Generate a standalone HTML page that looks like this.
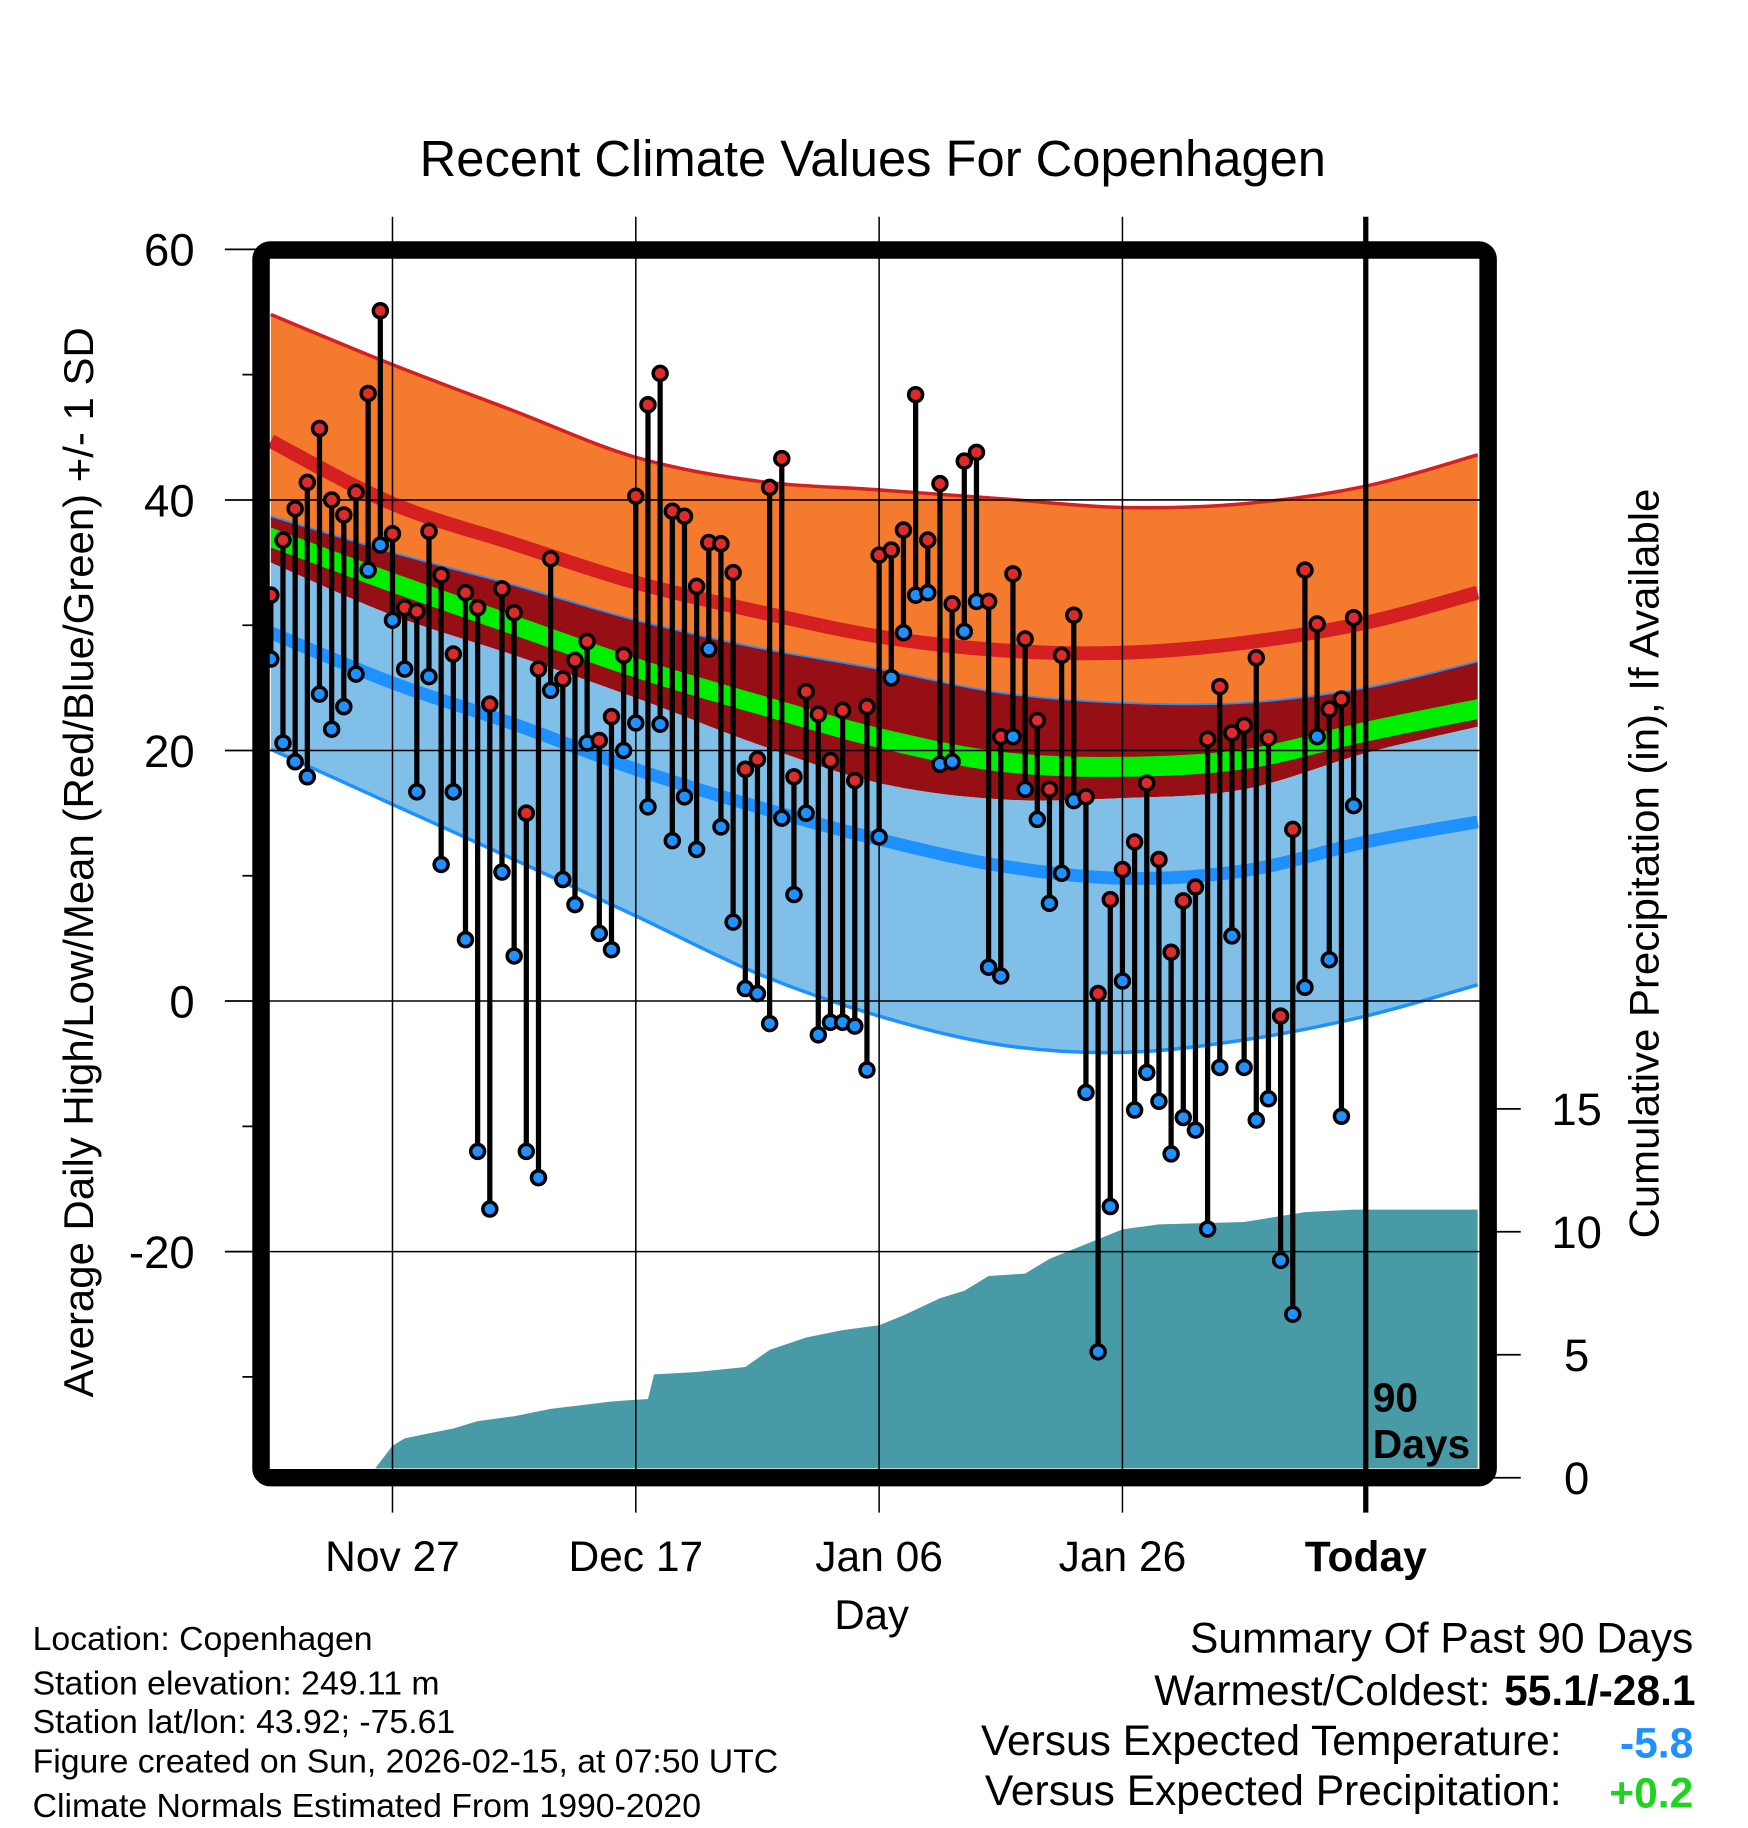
<!DOCTYPE html>
<html><head><meta charset="utf-8"><title>Recent Climate Values For Copenhagen</title>
<style>html,body{margin:0;padding:0;background:#fff}svg{display:block}text{font-family:"Liberation Sans",sans-serif}</style></head>
<body>
<svg id="chart" xmlns="http://www.w3.org/2000/svg" width="1748" height="1828" viewBox="0 0 1500 1568.6" preserveAspectRatio="none">
<defs><clipPath id="plotclip"><rect x="231" y="222" width="1038" height="1038"/></clipPath></defs>
<text x="749" y="151" font-size="43.5" text-anchor="middle">Recent Climate Values For Copenhagen</text>
<g id="bands" clip-path="url(#plotclip)"></g>
<g id="precip" clip-path="url(#plotclip)"></g>
<g id="grid"></g>
<g id="marks"></g>
<rect x="224" y="214.5" width="1053" height="1053.5" rx="8" fill="none" stroke="#000" stroke-width="15"/>
<g id="axes"></g>
<text x="1178" y="1211" font-size="35" font-weight="bold">90</text>
<text x="1178" y="1251" font-size="35" font-weight="bold">Days</text>
<text x="748" y="1398" font-size="36" text-anchor="middle">Day</text>
<text transform="translate(80,740) rotate(-90)" font-size="36" text-anchor="middle">Average Daily High/Low/Mean (Red/Blue/Green) +/- 1 SD</text>
<text transform="translate(1423,741) rotate(-90)" font-size="36" text-anchor="middle">Cumulative Precipitation (in), If Available</text>
<g font-size="29">
<text x="28" y="1416">Location: Copenhagen</text>
<text x="28" y="1454">Station elevation: 249.11 m</text>
<text x="28" y="1487">Station lat/lon: 43.92; -75.61</text>
<text x="28" y="1521">Figure created on Sun, 2026-02-15, at 07:50 UTC</text>
<text x="28" y="1559">Climate Normals Estimated From 1990-2020</text>
</g>
<g font-size="36.5">
<text x="1453" y="1418" text-anchor="end">Summary Of Past 90 Days</text>
<text x="1279" y="1463" text-anchor="end">Warmest/Coldest:</text>
<text x="1455" y="1463" text-anchor="end" font-weight="bold">55.1/-28.1</text>
<text x="1340" y="1506" text-anchor="end">Versus Expected Temperature:</text>
<text x="1453" y="1508" text-anchor="end" font-weight="bold" fill="#1e90ff">-5.8</text>
<text x="1340" y="1549" text-anchor="end">Versus Expected Precipitation:</text>
<text x="1453" y="1551" text-anchor="end" font-weight="bold" fill="#1ed41e">+0.2</text>
</g>
</svg>
<script>
// ---- data ----
const highs=[32.4,36.8,39.3,41.4,45.7,40,38.8,40.6,48.5,55.1,37.3,31.4,31.1,37.5,34,27.7,32.6,31.4,23.7,32.9,31,15,26.5,35.3,25.7,27.2,28.7,20.8,22.7,27.6,40.3,47.6,50.1,39.1,38.7,33.1,36.6,36.5,34.2,18.5,19.3,41,43.3,17.9,24.7,22.9,19.2,23.2,17.6,23.5,35.6,36,37.6,48.4,36.8,41.3,31.7,43.1,43.8,31.9,21.1,34.1,28.9,22.4,16.9,27.6,30.8,16.3,0.6,8.1,10.5,12.7,17.4,11.3,3.9,8,9.1,20.9,25.1,21.4,22,27.4,21,-1.2,13.7,34.4,30.1,23.3,24.1,30.6];
const lows=[27.3,20.6,19.1,17.9,24.5,21.7,23.5,26.1,34.4,36.4,30.4,26.5,16.7,25.9,10.9,16.7,4.9,-12,-16.6,10.3,3.6,-12,-14.1,24.8,9.7,7.7,20.6,5.4,4.1,20,22.2,15.5,22.1,12.8,16.3,12.1,28.1,13.9,6.3,1,0.6,-1.8,14.6,8.5,15,-2.7,-1.7,-1.7,-2,-5.5,13.1,25.8,29.4,32.4,32.6,18.9,19.1,29.5,31.9,2.7,2,21.1,16.9,14.5,7.8,10.2,16,-7.3,-28,-16.4,1.6,-8.7,-5.7,-8,-12.2,-9.3,-10.3,-18.2,-5.3,5.2,-5.3,-9.5,-7.8,-20.7,-25,1.1,21.1,3.3,-9.2,15.6];
const normDays=[-90,-80,-70,-60,-50,-40,-30,-20,-10,0,9.2];
const sdHighTop=[54.8,50.8,47.1,43.4,41.5,40.8,40.1,39.4,39.7,41.1,43.6];
const meanHigh=[44.7,39.7,36.5,33.4,31.1,29.1,28.0,27.8,28.6,30.2,32.6];
const sdMeanTop=[38.7,35.8,33.2,30.4,28.2,26.5,24.6,23.8,23.8,25.0,27.1];
const meanAvg=[37.0,33.4,30.0,26.6,23.7,21.0,19.1,18.7,19.3,21.5,23.3];
const sdMeanBot=[35.0,30.8,27.6,24.2,20.5,17.4,16.1,16.2,16.9,19.8,21.9];
const meanLow=[29.4,25.4,22.1,18.5,15.5,12.9,10.8,9.8,10.4,12.7,14.3];
const sdLowBot=[20.1,15.7,11.3,6.8,2.2,-1.2,-3.5,-4.1,-3.1,-1.2,1.3];
const precipDays=[-82,-80,-79,-77,-75,-73,-70,-67,-62,-59,-58.5,-55,-51,-49,-46,-43,-40,-38,-35,-33,-31,-28,-26,-23,-20,-17,-10,-5,-1,9.2];
const precipCum=[0,1.3,1.6,1.8,2.0,2.3,2.5,2.8,3.1,3.2,4.2,4.3,4.5,5.2,5.7,6.0,6.2,6.6,7.3,7.6,8.2,8.3,8.9,9.5,10.1,10.3,10.4,10.8,10.9,10.9];
const yTicks=[60,40,20,0,-20];
const yMinor=[50,30,10,-10,-30];
const pTicks=[0,5,10,15];
const xTickDays=[-80,-60,-40,-20,0];
const xTickLabels=["Nov 27","Dec 17","Jan 06","Jan 26","Today"];
// ---- scales ----
const NS="http://www.w3.org/2000/svg";
const X=d=>1172+d*10.44;
const Y=t=>859-t*10.75;
const P=v=>1268-v*21.1;
function mk(tag,attrs,parent){const e=document.createElementNS(NS,tag);for(const k in attrs)e.setAttribute(k,attrs[k]);parent.appendChild(e);return e;}
function pts(vals){return normDays.map((d,i)=>[X(d),Y(vals[i])]);}
function spline(p){let s="";for(let i=0;i<p.length-1;i++){const p0=p[i-1]||p[i],p1=p[i],p2=p[i+1],p3=p[i+2]||p[i+1];
 const c1=[p1[0]+(p2[0]-p0[0])/6,p1[1]+(p2[1]-p0[1])/6],c2=[p2[0]-(p3[0]-p1[0])/6,p2[1]-(p3[1]-p1[1])/6];
 s+=(i?"":"M"+p1[0]+","+p1[1])+" C"+c1+" "+c2+" "+p2;}return s;}
function rev(p){return p.slice().reverse();}
function band(top,bot,fill,name){const a=pts(top),b=rev(pts(bot));const d=spline(a)+" L"+b[0]+spline(b).replace(/^M[^ ]+/,"")+" Z";
 const e=mk("path",{d:d,fill:fill},document.getElementById("bands"));
 
 }
function line(vals,color,w,name){const e=mk("path",{d:spline(pts(vals)),fill:"none",stroke:color,"stroke-width":w},document.getElementById("bands"));
 
 }
band(sdHighTop,sdMeanTop,"#f47a2e","high-sd-band");
band(sdMeanTop,sdMeanBot,"#960f14","mean-sd-band");
band(sdMeanBot,sdLowBot,"#80c0e8","low-sd-band");
band(meanAvg.map(v=>v+0.8),meanAvg.map(v=>v-0.8),"#00ee00","mean-band");
line(sdHighTop,"#d42020",3,"high-sd-edge");
line(meanHigh,"#d42020",12,"mean-high-line");
line(sdMeanTop,"#1e90ff",1.5,"mean-sd-edge");
line(meanLow,"#1e90ff",11,"mean-low-line");
line(sdLowBot,"#1e90ff",3,"low-sd-edge");
// precip
{let d="M"+X(precipDays[0])+","+P(0);precipDays.forEach((dd,i)=>{d+=" L"+X(dd)+","+P(precipCum[i]);});
 d+=" L"+X(precipDays[precipDays.length-1])+","+P(0)+" Z";
 const e=mk("path",{d:d,fill:"#489ba6"},document.getElementById("precip"));
 
 }
// grid
const gr=document.getElementById("grid");
yTicks.forEach(t=>{const e=mk("line",{x1:224,x2:1277,y1:Y(t),y2:Y(t),stroke:"#000","stroke-width":1.3},gr);
 
 });
xTickDays.forEach((d,i)=>{const e=mk("line",{x1:X(d),x2:X(d),y1:186,y2:1298,stroke:"#000","stroke-width":d===0?4.5:1.3},gr);
 
 });
// marks
const mg=document.getElementById("marks");
highs.forEach((h,i)=>{const x=X(-90+i);
 const s=mk("line",{x1:x,x2:x,y1:Y(h),y2:Y(lows[i]),stroke:"#000","stroke-width":4.5},mg);
 
 });
highs.forEach((h,i)=>{const x=X(-90+i);
 const c=mk("circle",{cx:x,cy:Y(lows[i]),r:6,fill:"#1e90ff",stroke:"#000","stroke-width":3},mg);
 
 
 const c2=mk("circle",{cx:x,cy:Y(h),r:6,fill:"#dd2a2a",stroke:"#000","stroke-width":3},mg);
 
 });
// axes
const ax=document.getElementById("axes");
yTicks.forEach(t=>{const l=mk("line",{x1:193,x2:224,y1:Y(t),y2:Y(t),stroke:"#000","stroke-width":1.5},ax);
 
 
 const tx=mk("text",{x:167,y:Y(t)+14,"font-size":39,"text-anchor":"end"},ax);tx.textContent=String(t);
 
 });
yMinor.forEach(t=>{const l=mk("line",{x1:208,x2:224,y1:Y(t),y2:Y(t),stroke:"#000","stroke-width":1.5},ax);
 
 });
pTicks.forEach(v=>{const l=mk("line",{x1:1277,x2:1305,y1:P(v),y2:P(v),stroke:"#000","stroke-width":1.5},ax);
 
 
 const tx=mk("text",{x:1353,y:P(v)+14,"font-size":39,"text-anchor":"middle"},ax);tx.textContent=String(v);
 
 });
xTickDays.forEach((d,i)=>{const tx=mk("text",{x:X(d),y:1348,"font-size":36.5,"text-anchor":"middle"},ax);tx.textContent=xTickLabels[i];
 if(d===0)tx.setAttribute("font-weight","bold");
 
 });
</script>
</body></html>
